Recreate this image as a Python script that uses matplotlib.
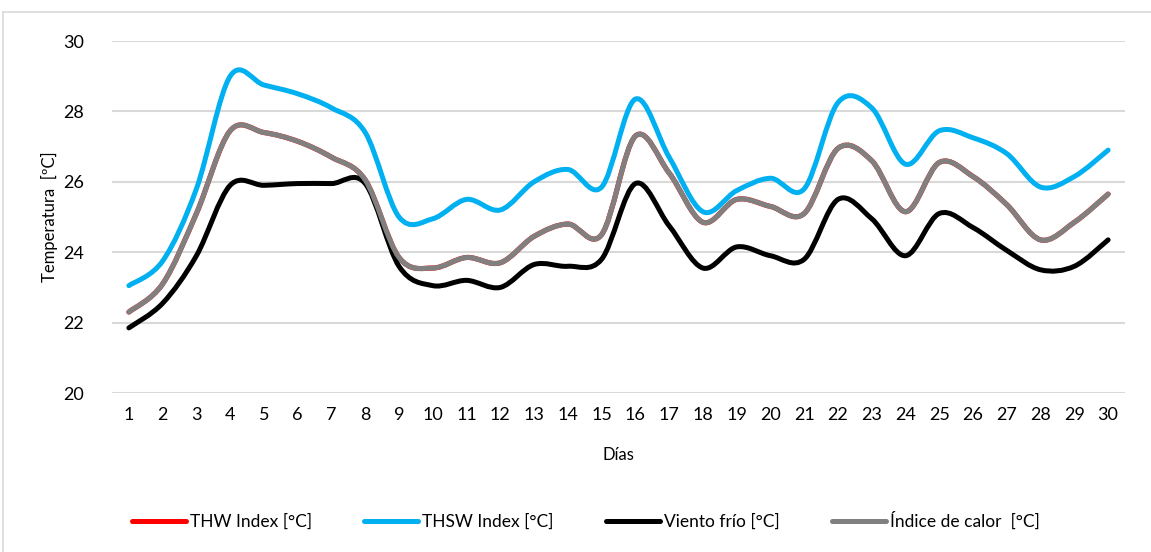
import matplotlib
matplotlib.use("Agg")
import matplotlib.pyplot as plt
import numpy as np
from matplotlib.path import Path
from matplotlib.patches import PathPatch
from matplotlib.lines import Line2D

plt.rcParams["font.family"] = ["Lato", "DejaVu Sans"]

dias = list(range(1, 31))
thsw = [23.05, 23.75, 25.8, 29.0, 28.75, 28.5, 28.1, 27.4, 25.0, 24.95,
        25.5, 25.2, 26.0, 26.35, 25.85, 28.35, 26.7, 25.15, 25.75, 26.1,
        25.8, 28.25, 28.1, 26.5, 27.45, 27.25, 26.8, 25.85, 26.15, 26.9]
indice_calor = [22.3, 23.1, 25.1, 27.45, 27.4, 27.15, 26.7, 26.05, 23.85, 23.55,
                23.85, 23.7, 24.45, 24.8, 24.5, 27.3, 26.25, 24.85, 25.5, 25.3,
                25.1, 26.95, 26.6, 25.15, 26.55, 26.15, 25.35, 24.35, 24.85, 25.65]
thw = list(indice_calor)
viento_frio = [21.85, 22.55, 23.9, 25.9, 25.9, 25.95, 25.95, 25.95, 23.6, 23.05,
               23.2, 23.0, 23.65, 23.6, 23.8, 25.95, 24.75, 23.55, 24.15, 23.9,
               23.8, 25.5, 24.95, 23.9, 25.1, 24.7, 24.05, 23.5, 23.6, 24.35]

series = [
    ("THW Index [°C]", thw, "#ff0000", 3.7),
    ("THSW Index [°C]", thsw, "#00b0f0", 3.6),
    ("Viento frío [°C]", viento_frio, "#000000", 3.6),
    ("Índice de calor  [°C]", indice_calor, "#808080", 3.6),
]


def smooth_path(x, y):
    # Excel-style smoothed line: cubic Bezier through each point
    x = np.asarray(x, float)
    y = np.asarray(y, float)
    pts = np.column_stack([x, y])
    verts = [pts[0]]
    codes = [Path.MOVETO]
    n = len(pts)
    for i in range(n - 1):
        p0 = pts[max(i - 1, 0)]
        p1 = pts[i]
        p2 = pts[i + 1]
        p3 = pts[min(i + 2, n - 1)]
        c1 = p1 + (p2 - p0) / 6.0
        c2 = p2 - (p3 - p1) / 6.0
        verts += [c1, c2, p2]
        codes += [Path.CURVE4] * 3
    return Path(verts, codes)


fig = plt.figure(figsize=(11.51, 5.52), dpi=100)
ax = fig.add_axes([112 / 1151, 1 - 393 / 552, 1013 / 1151, 352 / 552])

for label, vals, color, lw in series:
    patch = PathPatch(smooth_path(dias, vals), facecolor="none", edgecolor=color,
                      lw=lw, capstyle="round", joinstyle="round", zorder=3)
    ax.add_patch(patch)

ax.set_xlim(0.5, 30.5)
ax.set_ylim(20, 30)
ax.set_xticks(dias)
ax.set_yticks(np.arange(20, 31, 2))
ax.grid(axis="y", color="#d9d9d9", lw=1.5)
ax.set_axisbelow(True)
for s in ax.spines.values():
    s.set_visible(False)
ax.tick_params(length=0, labelsize=13, colors="#000000", pad=10)
ax.tick_params(axis="y", pad=20)
ax.set_xlabel("Días", fontsize=12, labelpad=17)
ax.set_ylabel("Temperatura  [ºC]", fontsize=12, labelpad=4)

handles = [Line2D([], [], color=c, lw=3.6, solid_capstyle="round") for _, _, c, _ in series]
labels = [s[0] for s in series]
fig.legend(handles, labels, loc="center", bbox_to_anchor=(586 / 1151, 1 - 521 / 552),
           ncol=4, frameon=False, fontsize=12.5, handlelength=3.1, handletextpad=0.25,
           columnspacing=3.0)

# chart-area border
fig.add_artist(Line2D([3 / 1151, 3 / 1151], [0, 1 - 12 / 552], transform=fig.transFigure,
                      color="#d9d9d9", lw=1.2))
fig.add_artist(Line2D([3 / 1151, 1], [1 - 12 / 552, 1 - 12 / 552], transform=fig.transFigure,
                      color="#d9d9d9", lw=1.2))

fig.savefig("out.png", dpi=100, facecolor="white")
